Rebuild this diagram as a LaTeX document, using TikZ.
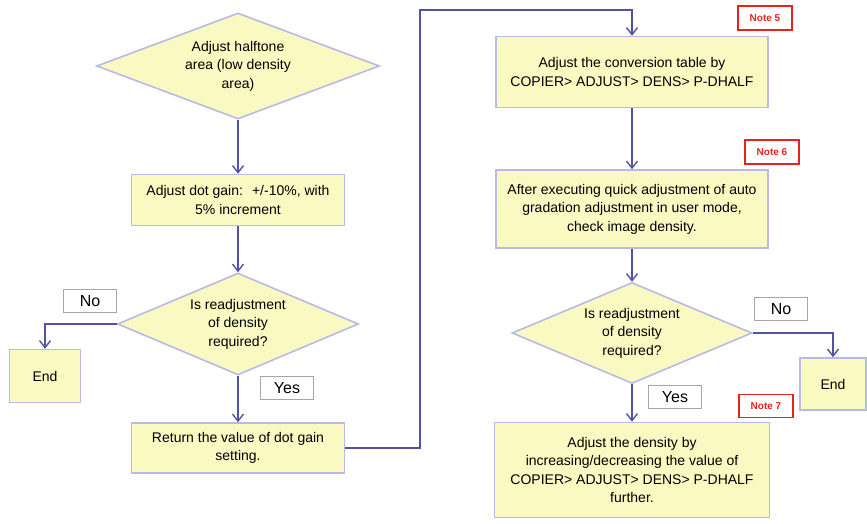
\documentclass[tikz,border=0pt]{standalone}
\usepackage{fontspec}
\setmainfont{Liberation Sans}
\usetikzlibrary{shapes.geometric,arrows.meta}
\definecolor{boxfill}{HTML}{FBF9C2}
\definecolor{boxline}{HTML}{B9B9E8}
\definecolor{flowline}{HTML}{5252A2}
\definecolor{notered}{HTML}{E8231C}
\tikzset{
  stepbox/.style={draw=boxline, fill=boxfill, line width=1.6pt, align=center,
    inner sep=2pt, font=\fontsize{14}{18.5}\selectfont},
  decide/.style={stepbox, diamond, shape aspect=2.7, inner sep=0pt},
  answer/.style={draw=gray!70, fill=white, line width=1.5pt,
    minimum width=53pt, minimum height=23pt, inner sep=0pt,
    font=\fontsize{16}{18}\selectfont},
  note/.style={draw=notered, fill=white, line width=1.2pt, text=notered,
    minimum width=54pt, minimum height=24pt, inner sep=0pt,
    font=\bfseries\fontsize{10}{12}\selectfont},
  flow/.style={draw=flowline, line width=1.4pt, -{Straight Barb[length=7pt,width=11pt]}}
}
\begin{document}
\begin{tikzpicture}[x=1pt,y=-1pt]
  \useasboundingbox[fill=white] (0,0) rectangle (867,523);
  % left column
  \node[decide, minimum width=283pt, minimum height=106pt] (halftone) at (238,66)
    {Adjust halftone\\area (low density\\area)};
  \node[stepbox, minimum width=213pt, minimum height=51pt] (dotgain) at (238,200)
    {Adjust dot gain:~ +/-10\%, with\\5\% increment};
  \node[decide, minimum width=241pt, minimum height=102pt] (askA) at (238,324)
    {Is readjustment\\of density\\required?};
  \node[stepbox, minimum width=71pt, minimum height=53pt] (endA) at (45,376) {End};
  \node[stepbox, minimum width=213pt, minimum height=50pt] (restore) at (238,448)
    {Return the value of dot gain\\setting.};
  \node[answer] (noA) at (90,301) {No};
  \node[answer] (yesA) at (287,388) {Yes};
  % right column
  \node[stepbox, minimum width=272pt, minimum height=71pt] (table) at (632,72)
    {Adjust the conversion table by\\COPIER> ADJUST> DENS> P-DHALF};
  \node[stepbox, minimum width=272pt, minimum height=78pt] (quick) at (632,209)
    {After executing quick adjustment of auto\\gradation adjustment in user mode,\\check image density.};
  \node[decide, minimum width=240pt, minimum height=101pt] (askB) at (632,333)
    {Is readjustment\\of density\\required?};
  \node[stepbox, minimum width=66pt, minimum height=52pt] (endB) at (833,384) {End};
  \node[stepbox, minimum width=275pt, minimum height=95pt] (further) at (632,470)
    {Adjust the density by\\increasing/decreasing the value of\\COPIER> ADJUST> DENS> P-DHALF\\further.};
  \node[answer] (noB) at (781,309) {No};
  \node[answer] (yesB) at (675,397) {Yes};
  % notes
  \node[note] (note5) at (765,18) {Note 5};
  \node[note] (note6) at (772,152) {Note 6};
  \node[note, minimum height=23pt] (note7) at (766,406) {Note 7};
  % connectors
  \coordinate (jump) at (420,10);
  \draw[flow] (halftone.south) -- (dotgain.north);
  \draw[flow] (dotgain.south) -- (askA.north);
  \draw[flow] (askA.west) -| (endA.north);
  \draw[flow] (askA.south) -- (restore.north);
  \draw[flow] (restore.east) -| (jump) -| (table.north);
  \draw[flow] (table.south) -- (quick.north);
  \draw[flow] (quick.south) -- (askB.north);
  \draw[flow] (askB.east) -| (endB.north);
  \draw[flow] (askB.south) -- (further.north);
\end{tikzpicture}
\end{document}
